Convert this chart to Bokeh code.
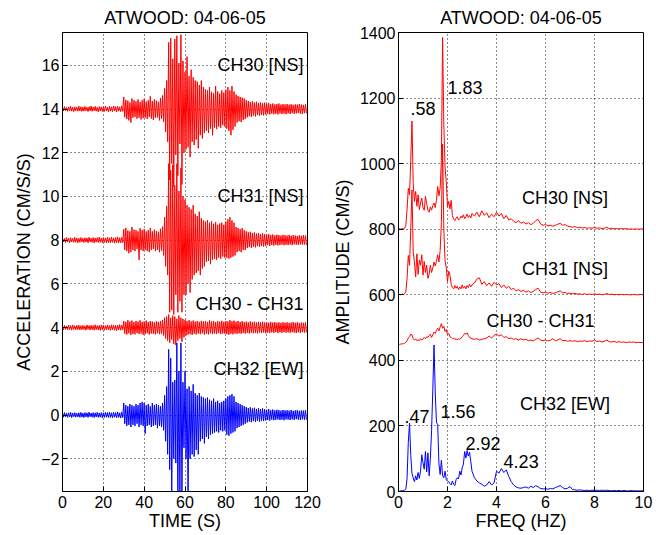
from bokeh.plotting import figure
from bokeh.layouts import row
from bokeh.models import Label, FixedTicker, Range1d
from bokeh.embed import file_html
from bokeh.resources import INLINE

# ---------------- DATA ----------------
TITLE = "ATWOOD: 04-06-05"
SAMPLE_DT = 0.5  # s between successive peaks (hi, lo alternate each second)

TIME_TICKS = [0, 20, 40, 60, 80, 100, 120]
ACC_TICKS = [-2, 0, 2, 4, 6, 8, 10, 12, 14, 16]
FREQ_TICKS = [0, 2, 4, 6, 8, 10]
AMP_TICKS = [0, 200, 400, 600, 800, 1000, 1200, 1400]

# Time-series offsets (cm/s/s)
OFFSET_CH30, OFFSET_CH31, OFFSET_DIFF, OFFSET_CH32 = 14, 8, 4, 0

# Per-second positive / negative peaks, deviation from the offset (cm/s/s)
ch30_hi = [0.08, 0.11, 0.07, 0.10, 0.12, 0.08, 0.10, 0.09, 0.13, 0.10,
           0.09, 0.12, 0.08, 0.10, 0.14, 0.09, 0.12, 0.08, 0.11, 0.10,
           0.10, 0.13, 0.09, 0.12, 0.10, 0.14, 0.11, 0.12, 0.10, 0.15,
           0.55, 0.42, 0.38, 0.30, 0.48, 0.40, 0.35, 0.44, 0.32, 0.40,
           0.46, 0.34, 0.40, 0.58, 0.36, 0.44, 0.38, 0.33, 0.50, 0.62,
           0.95, 1.30, 3.05, 3.25, 2.30, 3.20, 3.35, 2.10, 3.40, 2.20,
           1.70, 2.40, 1.50, 1.80, 1.45, 1.30, 1.25, 1.10, 1.30, 1.00,
           0.90, 0.85, 1.00, 0.78, 0.72, 1.05, 0.80, 0.70, 0.85, 0.75,
           0.88, 1.00, 0.85, 1.05, 0.80, 0.66, 0.60, 0.55, 0.52, 0.48,
           0.40, 0.36, 0.32, 0.35, 0.30, 0.33, 0.28, 0.30, 0.26, 0.29,
           0.24, 0.27, 0.22, 0.25, 0.21, 0.23, 0.25, 0.20, 0.23, 0.21,
           0.23, 0.20, 0.22, 0.19, 0.21, 0.20, 0.23, 0.20, 0.19, 0.21]
ch30_lo = [-0.09, -0.07, -0.11, -0.08, -0.10, -0.12, -0.08, -0.10, -0.09, -0.11,
           -0.10, -0.08, -0.12, -0.09, -0.11, -0.08, -0.10, -0.13, -0.09, -0.11,
           -0.11, -0.09, -0.13, -0.10, -0.12, -0.09, -0.14, -0.10, -0.12, -0.11,
           -0.38, -0.46, -0.52, -0.62, -0.40, -0.36, -0.44, -0.40, -0.48, -0.42,
           -0.40, -0.46, -0.36, -0.44, -0.50, -0.40, -0.38, -0.52, -0.44, -0.58,
           -1.05, -1.50, -3.25, -2.50, -3.55, -2.10, -3.05, -1.60, -3.45, -2.00,
           -1.85, -1.75, -2.20, -1.50, -1.65, -1.40, -1.80, -1.20, -1.35, -1.10,
           -1.00, -1.10, -0.90, -1.20, -0.85, -0.92, -0.80, -0.86, -0.74, -0.80,
           -0.90, -1.00, -1.20, -0.95, -0.80, -0.62, -0.56, -0.60, -0.50, -0.46,
           -0.38, -0.33, -0.36, -0.30, -0.34, -0.28, -0.31, -0.27, -0.29, -0.25,
           -0.22, -0.25, -0.21, -0.24, -0.22, -0.25, -0.20, -0.23, -0.21, -0.24,
           -0.20, -0.23, -0.19, -0.22, -0.20, -0.18, -0.21, -0.23, -0.19, -0.20]

ch31_hi = [0.10, 0.08, 0.12, 0.09, 0.11, 0.08, 0.13, 0.10, 0.09, 0.12,
           0.08, 0.11, 0.10, 0.13, 0.09, 0.12, 0.10, 0.11, 0.14, 0.09,
           0.12, 0.10, 0.13, 0.11, 0.14, 0.10, 0.12, 0.15, 0.11, 0.13,
           0.50, 0.56, 0.44, 0.40, 0.60, 0.48, 0.45, 0.40, 0.55, 0.46,
           0.50, 0.40, 0.46, 0.55, 0.40, 0.48, 0.42, 0.38, 0.52, 0.62,
           1.05, 1.55, 3.50, 3.20, 3.45, 2.50, 3.50, 2.25, 3.30, 2.00,
           1.85, 1.60, 1.50, 1.40, 1.60, 1.20, 1.10, 1.30, 1.00, 0.90,
           0.85, 0.92, 0.80, 0.86, 0.75, 0.82, 0.70, 0.76, 0.80, 0.70,
           0.85, 0.95, 1.05, 0.90, 0.80, 0.60, 0.55, 0.50, 0.55, 0.45,
           0.40, 0.36, 0.38, 0.33, 0.35, 0.30, 0.33, 0.28, 0.31, 0.27,
           0.25, 0.28, 0.23, 0.26, 0.22, 0.25, 0.23, 0.21, 0.24, 0.22,
           0.21, 0.24, 0.20, 0.23, 0.21, 0.19, 0.22, 0.20, 0.23, 0.21]
ch31_lo = [-0.08, -0.11, -0.09, -0.12, -0.08, -0.10, -0.09, -0.12, -0.10, -0.08,
           -0.11, -0.09, -0.12, -0.08, -0.10, -0.13, -0.09, -0.11, -0.10, -0.12,
           -0.10, -0.13, -0.11, -0.12, -0.10, -0.14, -0.11, -0.12, -0.13, -0.11,
           -0.45, -0.50, -0.60, -0.55, -0.45, -0.50, -0.40, -0.90, -0.45, -0.50,
           -0.45, -0.50, -0.55, -0.45, -0.40, -0.50, -0.45, -0.55, -0.48, -0.70,
           -1.20, -1.60, -3.30, -3.20, -3.40, -2.50, -3.30, -2.80, -3.30, -2.50,
           -2.50, -2.00, -2.40, -1.80, -1.60, -1.50, -1.40, -1.60, -1.30, -1.20,
           -1.00, -0.95, -1.10, -0.90, -0.85, -0.90, -0.80, -0.85, -0.75, -0.80,
           -0.80, -0.85, -0.80, -0.75, -0.70, -0.55, -0.50, -0.55, -0.45, -0.45,
           -0.36, -0.32, -0.35, -0.30, -0.33, -0.28, -0.31, -0.27, -0.29, -0.26,
           -0.23, -0.26, -0.22, -0.25, -0.21, -0.24, -0.22, -0.20, -0.23, -0.21,
           -0.22, -0.20, -0.23, -0.19, -0.21, -0.22, -0.19, -0.21, -0.20, -0.22]

diff_hi = [0.08, 0.10, 0.07, 0.11, 0.09, 0.12, 0.08, 0.10, 0.11, 0.09,
           0.10, 0.08, 0.12, 0.09, 0.11, 0.10, 0.13, 0.09, 0.10, 0.12,
           0.11, 0.09, 0.12, 0.10, 0.13, 0.11, 0.10, 0.12, 0.14, 0.11,
           0.30, 0.26, 0.34, 0.28, 0.32, 0.25, 0.30, 0.27, 0.33, 0.26,
           0.28, 0.32, 0.25, 0.30, 0.27, 0.24, 0.29, 0.26, 0.30, 0.35,
           0.45, 0.50, 0.60, 0.45, 0.55, 0.50, 0.40, 0.55, 0.45, 0.40,
           0.35, 0.30, 0.34, 0.28, 0.32, 0.27, 0.30, 0.26, 0.31, 0.28,
           0.30, 0.26, 0.33, 0.28, 0.30, 0.25, 0.29, 0.27, 0.31, 0.26,
           0.30, 0.28, 0.34, 0.29, 0.32, 0.27, 0.30, 0.26, 0.29, 0.25,
           0.27, 0.24, 0.28, 0.25, 0.27, 0.23, 0.26, 0.24, 0.27, 0.23,
           0.25, 0.22, 0.26, 0.23, 0.25, 0.22, 0.24, 0.21, 0.25, 0.22,
           0.24, 0.21, 0.23, 0.25, 0.22, 0.24, 0.21, 0.23, 0.22, 0.24]
diff_lo = [-0.10, -0.08, -0.11, -0.09, -0.12, -0.08, -0.10, -0.09, -0.11, -0.10,
           -0.09, -0.12, -0.08, -0.11, -0.10, -0.12, -0.09, -0.11, -0.13, -0.10,
           -0.12, -0.10, -0.11, -0.13, -0.10, -0.12, -0.14, -0.11, -0.12, -0.10,
           -0.28, -0.32, -0.26, -0.34, -0.29, -0.31, -0.25, -0.30, -0.27, -0.33,
           -0.30, -0.26, -0.32, -0.27, -0.29, -0.31, -0.26, -0.30, -0.28, -0.36,
           -0.50, -0.60, -0.70, -0.55, -0.75, -0.80, -0.60, -0.50, -0.65, -0.45,
           -0.36, -0.32, -0.30, -0.34, -0.28, -0.31, -0.27, -0.30, -0.26, -0.32,
           -0.28, -0.31, -0.26, -0.30, -0.27, -0.29, -0.25, -0.30, -0.27, -0.28,
           -0.30, -0.33, -0.28, -0.31, -0.27, -0.29, -0.26, -0.28, -0.25, -0.27,
           -0.24, -0.27, -0.23, -0.26, -0.24, -0.27, -0.23, -0.25, -0.22, -0.26,
           -0.23, -0.25, -0.22, -0.24, -0.21, -0.25, -0.22, -0.24, -0.21, -0.23,
           -0.22, -0.24, -0.21, -0.23, -0.25, -0.22, -0.24, -0.21, -0.23, -0.22]

ch32_hi = [0.09, 0.11, 0.08, 0.10, 0.12, 0.09, 0.11, 0.08, 0.10, 0.12,
           0.09, 0.11, 0.10, 0.13, 0.09, 0.11, 0.10, 0.12, 0.09, 0.11,
           0.10, 0.12, 0.11, 0.13, 0.10, 0.12, 0.11, 0.14, 0.10, 0.13,
           0.55, 0.45, 0.40, 0.50, 0.45, 0.40, 0.50, 0.45, 0.55, 0.60,
           0.55, 0.45, 0.50, 0.40, 0.55, 0.45, 0.50, 0.45, 0.40, 0.55,
           0.90, 1.30, 3.00, 2.60, 1.50, 1.60, 3.30, 2.00, 3.30, 1.50,
           2.00, 1.20, 1.30, 1.10, 1.40, 1.00, 0.90, 1.00, 0.85, 0.80,
           0.75, 0.80, 0.70, 0.65, 0.75, 0.60, 0.65, 0.55, 0.60, 0.65,
           0.75, 0.85, 0.90, 0.95, 0.85, 0.60, 0.55, 0.50, 0.45, 0.40,
           0.36, 0.32, 0.35, 0.30, 0.33, 0.28, 0.31, 0.27, 0.30, 0.26,
           0.24, 0.27, 0.22, 0.25, 0.21, 0.24, 0.22, 0.20, 0.23, 0.21,
           0.22, 0.20, 0.23, 0.19, 0.21, 0.22, 0.19, 0.21, 0.20, 0.22]
ch32_lo = [-0.10, -0.08, -0.11, -0.09, -0.12, -0.08, -0.10, -0.09, -0.11, -0.10,
           -0.12, -0.09, -0.11, -0.08, -0.10, -0.12, -0.09, -0.11, -0.10, -0.13,
           -0.11, -0.10, -0.12, -0.11, -0.13, -0.10, -0.12, -0.11, -0.14, -0.12,
           -0.40, -0.50, -0.45, -0.55, -0.45, -0.50, -0.40, -0.55, -0.45, -0.50,
           -0.85, -0.50, -0.45, -0.55, -0.50, -0.45, -0.60, -0.50, -0.55, -0.70,
           -1.20, -1.80, -2.50, -3.80, -2.00, -2.20, -3.80, -3.80, -3.80, -1.50,
           -2.00, -3.80, -2.00, -1.80, -1.90, -1.60, -1.80, -1.20, -1.10, -1.30,
           -1.00, -1.10, -0.90, -0.85, -0.80, -0.75, -0.80, -0.70, -0.75, -0.70,
           -0.90, -0.95, -0.85, -0.80, -0.75, -0.60, -0.55, -0.50, -0.45, -0.40,
           -0.34, -0.30, -0.33, -0.28, -0.31, -0.27, -0.30, -0.26, -0.28, -0.25,
           -0.23, -0.26, -0.21, -0.24, -0.22, -0.20, -0.23, -0.21, -0.24, -0.20,
           -0.21, -0.23, -0.20, -0.22, -0.19, -0.21, -0.23, -0.20, -0.22, -0.21]

# Fourier amplitude spectra (cm/s), offset
freq = [0.00, 0.05, 0.10, 0.15, 0.20, 0.25, 0.30, 0.35, 0.40, 0.45,
        0.50, 0.55, 0.60, 0.65, 0.70, 0.75, 0.80, 0.85, 0.90, 0.95,
        1.00, 1.05, 1.10, 1.15, 1.20, 1.25, 1.30, 1.35, 1.40, 1.45,
        1.50, 1.55, 1.60, 1.65, 1.70, 1.75, 1.80, 1.85, 1.90, 1.95,
        2.00, 2.05, 2.10, 2.15, 2.20, 2.25, 2.30, 2.35, 2.40, 2.45,
        2.50, 2.55, 2.60, 2.65, 2.70, 2.75, 2.80, 2.85, 2.90, 2.95,
        3.00,
        3.1, 3.2, 3.3, 3.4, 3.5, 3.6, 3.7, 3.8, 3.9, 4.0,
        4.1, 4.2, 4.3, 4.4, 4.5, 4.6, 4.7, 4.8, 4.9, 5.0,
        5.1, 5.2, 5.3, 5.4, 5.5, 5.6, 5.7, 5.8, 5.9, 6.0,
        6.1, 6.2, 6.3, 6.4, 6.5, 6.6, 6.7, 6.8, 6.9, 7.0,
        7.1, 7.2, 7.3, 7.4, 7.5, 7.6, 7.7, 7.8, 7.9, 8.0,
        8.1, 8.2, 8.3, 8.4, 8.5, 8.6, 8.7, 8.8, 8.9, 9.0,
        9.1, 9.2, 9.3, 9.4, 9.5, 9.6, 9.7, 9.8, 9.9, 10.0]

amp_ch30 = [800, 801, 800, 802, 801, 803, 812, 860, 925, 905,
            1010, 1130, 940, 885, 915, 870, 905, 860, 880, 895,
            865, 858, 900, 878, 858, 852, 868, 858, 872, 880,
            866, 888, 930, 902, 925, 1010, 1385, 1120, 990, 945,
            868, 885, 862, 888, 842, 830, 826, 834, 838, 828,
            832, 840, 835, 844, 832, 838, 846, 836, 842, 834,
            848,
            840, 852, 838, 856, 842, 850, 835, 846, 838, 852,
            840, 848, 832, 842, 828, 832, 824, 820, 826, 818,
            822, 816, 820, 814, 818, 826, 830, 816, 812, 814,
            810, 812, 809, 812, 815, 818, 812, 814, 809, 808,
            806, 808, 805, 806, 804, 805, 803, 804, 803, 805,
            803, 804, 802, 803, 806, 802, 803, 801, 802, 801,
            802, 801, 802, 800, 801, 800, 801, 800, 801, 800]

amp_ch31 = [600, 601, 600, 602, 601, 603, 610, 650, 720, 690,
            800, 920, 730, 700, 655, 725, 662, 705, 690, 722,
            660, 702, 668, 690, 650, 662, 690, 668, 682, 700,
            688, 702, 722, 700, 735, 820, 1060, 800, 705, 682,
            640, 672, 660, 632, 622, 618, 628, 620, 626, 616,
            624, 618, 630, 620, 626, 618, 628, 622, 632, 624,
            630,
            636, 648, 652, 632, 640, 628, 636, 626, 638, 630,
            634, 622, 630, 620, 626, 616, 620, 612, 616, 610,
            614, 608, 612, 607, 610, 616, 620, 608, 606, 608,
            605, 607, 604, 606, 609, 612, 606, 607, 604, 605,
            603, 604, 602, 603, 601, 603, 601, 602, 601, 603,
            601, 602, 600, 601, 604, 601, 602, 600, 601, 600,
            601, 600, 601, 600, 600, 601, 600, 600, 601, 600]

amp_diff = [448, 449, 450, 450, 451, 452, 455, 460, 468, 472,
            480, 478, 466, 462, 465, 460, 463, 460, 466, 462,
            465, 470, 466, 472, 470, 476, 480, 470, 478, 486,
            482, 492, 498, 490, 502, 512, 498, 504, 488, 494,
            478, 482, 472, 470, 466, 468, 464, 466, 462, 466,
            464, 468, 472, 476, 482, 480, 484, 476, 470, 468,
            466,
            464, 466, 462, 464, 466, 468, 474, 468, 476, 480,
            474, 478, 470, 472, 466, 468, 464, 466, 462, 466,
            462, 464, 460, 462, 459, 464, 468, 462, 460, 462,
            459, 461, 466, 460, 462, 466, 460, 461, 458, 460,
            458, 460, 457, 459, 458, 460, 457, 459, 458, 462,
            457, 459, 456, 458, 462, 457, 456, 458, 455, 457,
            455, 456, 454, 456, 455, 456, 454, 455, 454, 455]

amp_ch32 = [0, 1, 2, 2, 3, 4, 8, 40, 150, 208,
            110, 55, 42, 30, 48, 35, 58, 40, 62, 112,
            88, 68, 122, 60, 118, 48, 100, 185, 310, 447,
            300, 210, 205, 85, 52, 95, 48, 42, 62, 36,
            32, 30, 24, 20, 32, 22, 18, 36, 42, 38,
            62, 50, 72, 84, 122, 102, 125, 108, 120, 92,
            62,
            42, 32, 26, 22, 16, 20, 30, 20, 26, 62,
            56, 70, 58, 66, 46, 30, 20, 14, 11, 10,
            12, 14, 10, 16, 12, 18, 14, 9, 8, 8,
            7, 9, 8, 12, 15, 18, 12, 8, 10, 15,
            6, 5, 4, 5, 4, 3, 4, 3, 4, 3,
            4, 3, 4, 3, 4, 3, 2, 3, 2, 3,
            2, 3, 2, 2, 3, 2, 2, 2, 2, 2]

left_labels = ["CH30 [NS]", "CH31 [NS]", "CH30 - CH31", "CH32 [EW]"]
left_label_y = [16.0, 10.0, 5.1, 2.1]
right_labels = ["CH30 [NS]", "CH31 [NS]", "CH30 - CH31", "CH32 [EW]"]
right_label_x = [6.8, 6.8, 5.8, 6.8]
right_label_y = [895, 680, 520, 266]
peak_labels = [".58", "1.83", ".47", "1.56", "2.92", "4.23"]
peak_label_x = [0.49, 2.0, 0.24, 1.71, 2.73, 4.29]
peak_label_y = [1168, 1232, 228, 244, 147, 92]

RED = "#ff0000"
BLUE = "#0000ff"
FONT = "Liberation Sans"


def zigzag(offset, hi, lo):
    ys = []
    for h, l in zip(hi, lo):
        ys.append(offset + h)
        ys.append(offset + l)
    ts = [i * SAMPLE_DT for i in range(len(ys))]
    return ts, ys


def style(p, xticks, yticks):
    p.title.text_font = FONT
    p.title.text_font_size = "18px"
    p.title.text_font_style = "normal"
    p.title.text_color = "black"
    p.title.align = "center"
    p.title.standoff = 10
    p.outline_line_color = "black"
    p.outline_line_width = 1
    p.background_fill_color = "white"
    p.border_fill_color = "white"
    p.xaxis.ticker = FixedTicker(ticks=xticks)
    p.yaxis.ticker = FixedTicker(ticks=yticks)
    for ax in (p.xaxis, p.yaxis):
        ax.major_label_text_font = FONT
        ax.major_label_text_font_size = "16px"
        ax.axis_label_text_font = FONT
        ax.axis_label_text_font_size = "18px"
        ax.axis_label_text_font_style = "normal"
        ax.major_tick_in = 5
        ax.major_tick_out = 0
        ax.minor_tick_in = 0
        ax.minor_tick_out = 0
        ax.axis_line_color = "black"
        ax.major_tick_line_color = "black"
        ax.major_label_text_color = "black"
        ax.axis_label_text_color = "black"
    p.xaxis.major_label_standoff = 4
    p.yaxis.major_label_standoff = 3
    p.xaxis.axis_label_standoff = 0
    p.yaxis.axis_label_standoff = 4
    for g in (p.xgrid, p.ygrid):
        g.grid_line_color = "black"
        g.grid_line_dash = "1 3"
        g.grid_line_width = 1
        g.grid_line_alpha = 0.9
    p.xgrid.ticker = FixedTicker(ticks=xticks)
    p.ygrid.ticker = FixedTicker(ticks=yticks)


# ---------------- LEFT PANEL ----------------
left = figure(width=328, height=535, output_backend="svg", toolbar_location=None,
              title=TITLE, x_range=Range1d(0, 120), y_range=Range1d(-3.5, 17.5),
              x_axis_label="TIME (S)", y_axis_label="ACCELERATION (CM/S/S)",
              min_border_left=62, min_border_right=21, min_border_top=32, min_border_bottom=44)
style(left, TIME_TICKS, ACC_TICKS)

for off, hi, lo, col in [(OFFSET_CH30, ch30_hi, ch30_lo, RED),
                         (OFFSET_CH31, ch31_hi, ch31_lo, RED),
                         (OFFSET_DIFF, diff_hi, diff_lo, RED),
                         (OFFSET_CH32, ch32_hi, ch32_lo, BLUE)]:
    t, y = zigzag(off, hi, lo)
    left.line(t, y, line_color=col, line_width=1)

for txt, yv in zip(left_labels, left_label_y):
    left.add_layout(Label(x=118, y=yv, text=txt, text_align="right", text_baseline="middle",
                          text_font=FONT, text_font_size="18px", text_color="black"))

# ---------------- RIGHT PANEL ----------------
right = figure(width=328, height=535, output_backend="svg", toolbar_location=None,
               title=TITLE, x_range=Range1d(0, 10), y_range=Range1d(0, 1400),
               x_axis_label="FREQ (HZ)", y_axis_label="AMPLITUDE (CM/S)",
               min_border_left=70, min_border_right=13, min_border_top=32, min_border_bottom=44)
style(right, FREQ_TICKS, AMP_TICKS)

for amp, col in [(amp_ch30, RED), (amp_ch31, RED), (amp_diff, RED), (amp_ch32, BLUE)]:
    right.line(freq, amp, line_color=col, line_width=1)

for txt, xv, yv in zip(right_labels, right_label_x, right_label_y):
    right.add_layout(Label(x=xv, y=yv, text=txt, text_align="center", text_baseline="middle",
                           text_font=FONT, text_font_size="18px", text_color="black"))
for txt, xv, yv in zip(peak_labels, peak_label_x, peak_label_y):
    right.add_layout(Label(x=xv, y=yv, text=txt, text_align="left", text_baseline="middle",
                           text_font=FONT, text_font_size="18px", text_color="black"))

layout = row(left, right)
open("out.html", "w").write(file_html(layout, INLINE))
